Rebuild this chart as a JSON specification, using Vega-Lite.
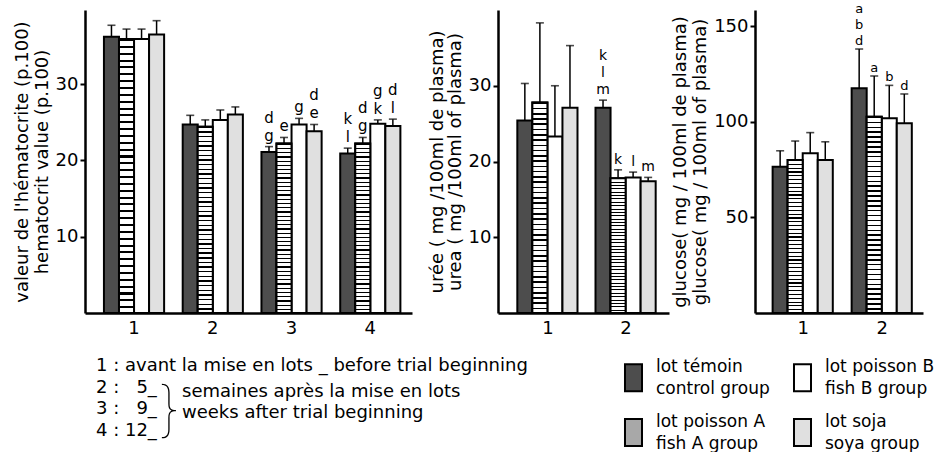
{
"$schema": "https://vega.github.io/schema/vega-lite/v6.json",
"padding": {"left": 13, "top": 10, "right": 0, "bottom": 0},
"spacing": 20,
"datasets": {
"hema": [
{"g":"1","s":"control","v":36.2,"e":37.7},
{"g":"1","s":"fishA","v":35.9,"e":37.2},
{"g":"1","s":"fishB","v":35.9,"e":37.2},
{"g":"1","s":"soya","v":36.5,"e":38.3},
{"g":"2","s":"control","v":24.7,"e":25.9},
{"g":"2","s":"fishA","v":24.4,"e":25.3},
{"g":"2","s":"fishB","v":25.3,"e":26.6},
{"g":"2","s":"soya","v":26.0,"e":27.0},
{"g":"3","s":"control","v":21.1,"e":21.8,"lab":"g\nd"},
{"g":"3","s":"fishA","v":22.2,"e":23.0,"lab":"e"},
{"g":"3","s":"fishB","v":24.7,"e":25.5,"lab":"g"},
{"g":"3","s":"soya","v":23.8,"e":24.7,"lab":"e\nd"},
{"g":"4","s":"control","v":20.9,"e":21.6,"lab":"l\nk"},
{"g":"4","s":"fishA","v":22.2,"e":23.0,"lab":"g\nd"},
{"g":"4","s":"fishB","v":24.8,"e":25.3,"lab":"k\ng"},
{"g":"4","s":"soya","v":24.5,"e":25.4,"lab":"l\nd"}
],
"urea": [
{"g":"1","s":"control","v":25.4,"e":30.3},
{"g":"1","s":"fishA","v":27.8,"e":38.3},
{"g":"1","s":"fishB","v":23.3,"e":30.0},
{"g":"1","s":"soya","v":27.1,"e":35.3},
{"g":"2","s":"control","v":27.1,"e":28.1,"lab":"m\nl\nk"},
{"g":"2","s":"fishA","v":17.8,"e":18.9,"lab":"k"},
{"g":"2","s":"fishB","v":17.9,"e":18.6,"lab":"l"},
{"g":"2","s":"soya","v":17.4,"e":17.9,"lab":"m"}
],
"glu": [
{"g":"1","s":"control","v":76.5,"e":84.8},
{"g":"1","s":"fishA","v":80.0,"e":89.9},
{"g":"1","s":"fishB","v":83.5,"e":94.3},
{"g":"1","s":"soya","v":80.0,"e":89.5},
{"g":"2","s":"control","v":117.5,"e":138.0,"lab":"d\nb\na"},
{"g":"2","s":"fishA","v":102.6,"e":123.9,"lab":"a"},
{"g":"2","s":"fishB","v":101.8,"e":119.0,"lab":"b"},
{"g":"2","s":"soya","v":99.2,"e":114.5,"lab":"d"}
]
},
"vconcat": [
{
"hconcat": [
{
"width": 327, "height": 303,
"data": {"name": "hema"},
"encoding": {
"x": {"field": "g", "type": "nominal", "title": null, "scale": {"paddingInner": 0.236, "paddingOuter": 0.194, "align": 0.62}},
"xOffset": {"field": "s", "type": "nominal", "scale": {"domain": ["control","fishA","fishB","soya"], "paddingInner": 0, "paddingOuter": 0}}
},
"layer": [
{"mark": {"type": "bar", "stroke": "black", "strokeWidth": 2},
"encoding": {
"y": {"field": "v", "type": "quantitative", "scale": {"domain": [0, 39.7], "nice": false}, "axis": {"values": [10,20,30], "title": ["valeur de l'hématocrite (p.100)", "hematocrit value (p.100)"]}},
"fill": {"field": "s", "type": "nominal",
"scale": {"domain": ["control","fishA","fishB","soya"], "range": ["#4d4d4d", "#a8a8a8", "#ffffff", "#e0e0e0"]},
"legend": {"orient": "none", "legendX": 534, "legendY": 353, "columns": 2, "title": null,
"symbolType": "M-0.63,-1H0.63V1H-0.63Z", "symbolSize": 729, "symbolStrokeColor": "black", "symbolStrokeWidth": 2,
"labelFont": "DejaVu Sans", "labelFontSize": 17, "labelColor": "black", "labelOffset": 8, "rowPadding": 15, "columnPadding": 18,
"labelExpr": "datum.label == 'control' ? ['lot témoin','control group'] : datum.label == 'fishA' ? ['lot poisson A','fish A group'] : datum.label == 'fishB' ? ['lot poisson B','fish B group'] : ['lot soja','soya group']",
"encode": {"labels": {"update": {"lineHeight": {"value": 22}, "dy": {"value": -11}}}}}
}
}},
{"transform": [{"filter": "datum.s == 'fishA'"}],
"mark": {"type": "bar", "stroke": "black", "strokeWidth": 2,
"fill": {"gradient": "linear", "x1": 0, "y1": 0, "x2": 0, "y2": 1, "stops": [
{"offset":0,"color":"#000"},{"offset":0.0075,"color":"#000"},{"offset":0.0075,"color":"#fff"},{"offset":0.025,"color":"#fff"},
{"offset":0.025,"color":"#000"},{"offset":0.0325,"color":"#000"},{"offset":0.0325,"color":"#fff"},{"offset":0.05,"color":"#fff"},
{"offset":0.05,"color":"#000"},{"offset":0.0575,"color":"#000"},{"offset":0.0575,"color":"#fff"},{"offset":0.075,"color":"#fff"},
{"offset":0.075,"color":"#000"},{"offset":0.0825,"color":"#000"},{"offset":0.0825,"color":"#fff"},{"offset":0.1,"color":"#fff"},
{"offset":0.1,"color":"#000"},{"offset":0.1075,"color":"#000"},{"offset":0.1075,"color":"#fff"},{"offset":0.125,"color":"#fff"},
{"offset":0.125,"color":"#000"},{"offset":0.1325,"color":"#000"},{"offset":0.1325,"color":"#fff"},{"offset":0.15,"color":"#fff"},
{"offset":0.15,"color":"#000"},{"offset":0.1575,"color":"#000"},{"offset":0.1575,"color":"#fff"},{"offset":0.175,"color":"#fff"},
{"offset":0.175,"color":"#000"},{"offset":0.1825,"color":"#000"},{"offset":0.1825,"color":"#fff"},{"offset":0.2,"color":"#fff"},
{"offset":0.2,"color":"#000"},{"offset":0.2075,"color":"#000"},{"offset":0.2075,"color":"#fff"},{"offset":0.225,"color":"#fff"},
{"offset":0.225,"color":"#000"},{"offset":0.2325,"color":"#000"},{"offset":0.2325,"color":"#fff"},{"offset":0.25,"color":"#fff"},
{"offset":0.25,"color":"#000"},{"offset":0.2575,"color":"#000"},{"offset":0.2575,"color":"#fff"},{"offset":0.275,"color":"#fff"},
{"offset":0.275,"color":"#000"},{"offset":0.2825,"color":"#000"},{"offset":0.2825,"color":"#fff"},{"offset":0.3,"color":"#fff"},
{"offset":0.3,"color":"#000"},{"offset":0.3075,"color":"#000"},{"offset":0.3075,"color":"#fff"},{"offset":0.325,"color":"#fff"},
{"offset":0.325,"color":"#000"},{"offset":0.3325,"color":"#000"},{"offset":0.3325,"color":"#fff"},{"offset":0.35,"color":"#fff"},
{"offset":0.35,"color":"#000"},{"offset":0.3575,"color":"#000"},{"offset":0.3575,"color":"#fff"},{"offset":0.375,"color":"#fff"},
{"offset":0.375,"color":"#000"},{"offset":0.3825,"color":"#000"},{"offset":0.3825,"color":"#fff"},{"offset":0.4,"color":"#fff"},
{"offset":0.4,"color":"#000"},{"offset":0.4075,"color":"#000"},{"offset":0.4075,"color":"#fff"},{"offset":0.425,"color":"#fff"},
{"offset":0.425,"color":"#000"},{"offset":0.4325,"color":"#000"},{"offset":0.4325,"color":"#fff"},{"offset":0.45,"color":"#fff"},
{"offset":0.45,"color":"#000"},{"offset":0.4575,"color":"#000"},{"offset":0.4575,"color":"#fff"},{"offset":0.475,"color":"#fff"},
{"offset":0.475,"color":"#000"},{"offset":0.4825,"color":"#000"},{"offset":0.4825,"color":"#fff"},{"offset":0.5,"color":"#fff"},
{"offset":0.5,"color":"#000"},{"offset":0.5075,"color":"#000"},{"offset":0.5075,"color":"#fff"},{"offset":0.525,"color":"#fff"},
{"offset":0.525,"color":"#000"},{"offset":0.5325,"color":"#000"},{"offset":0.5325,"color":"#fff"},{"offset":0.55,"color":"#fff"},
{"offset":0.55,"color":"#000"},{"offset":0.5575,"color":"#000"},{"offset":0.5575,"color":"#fff"},{"offset":0.575,"color":"#fff"},
{"offset":0.575,"color":"#000"},{"offset":0.5825,"color":"#000"},{"offset":0.5825,"color":"#fff"},{"offset":0.6,"color":"#fff"},
{"offset":0.6,"color":"#000"},{"offset":0.6075,"color":"#000"},{"offset":0.6075,"color":"#fff"},{"offset":0.625,"color":"#fff"},
{"offset":0.625,"color":"#000"},{"offset":0.6325,"color":"#000"},{"offset":0.6325,"color":"#fff"},{"offset":0.65,"color":"#fff"},
{"offset":0.65,"color":"#000"},{"offset":0.6575,"color":"#000"},{"offset":0.6575,"color":"#fff"},{"offset":0.675,"color":"#fff"},
{"offset":0.675,"color":"#000"},{"offset":0.6825,"color":"#000"},{"offset":0.6825,"color":"#fff"},{"offset":0.7,"color":"#fff"},
{"offset":0.7,"color":"#000"},{"offset":0.7075,"color":"#000"},{"offset":0.7075,"color":"#fff"},{"offset":0.725,"color":"#fff"},
{"offset":0.725,"color":"#000"},{"offset":0.7325,"color":"#000"},{"offset":0.7325,"color":"#fff"},{"offset":0.75,"color":"#fff"},
{"offset":0.75,"color":"#000"},{"offset":0.7575,"color":"#000"},{"offset":0.7575,"color":"#fff"},{"offset":0.775,"color":"#fff"},
{"offset":0.775,"color":"#000"},{"offset":0.7825,"color":"#000"},{"offset":0.7825,"color":"#fff"},{"offset":0.8,"color":"#fff"},
{"offset":0.8,"color":"#000"},{"offset":0.8075,"color":"#000"},{"offset":0.8075,"color":"#fff"},{"offset":0.825,"color":"#fff"},
{"offset":0.825,"color":"#000"},{"offset":0.8325,"color":"#000"},{"offset":0.8325,"color":"#fff"},{"offset":0.85,"color":"#fff"},
{"offset":0.85,"color":"#000"},{"offset":0.8575,"color":"#000"},{"offset":0.8575,"color":"#fff"},{"offset":0.875,"color":"#fff"},
{"offset":0.875,"color":"#000"},{"offset":0.8825,"color":"#000"},{"offset":0.8825,"color":"#fff"},{"offset":0.9,"color":"#fff"},
{"offset":0.9,"color":"#000"},{"offset":0.9075,"color":"#000"},{"offset":0.9075,"color":"#fff"},{"offset":0.925,"color":"#fff"},
{"offset":0.925,"color":"#000"},{"offset":0.9325,"color":"#000"},{"offset":0.9325,"color":"#fff"},{"offset":0.95,"color":"#fff"},
{"offset":0.95,"color":"#000"},{"offset":0.9575,"color":"#000"},{"offset":0.9575,"color":"#fff"},{"offset":0.975,"color":"#fff"},
{"offset":0.975,"color":"#000"},{"offset":0.9825,"color":"#000"},{"offset":0.9825,"color":"#fff"},{"offset":1,"color":"#fff"}
]}},
"encoding": {"y": {"field": "v", "type": "quantitative", "scale": {"domain": [0, 39.7], "nice": false}}}},
{"mark": {"type": "rule", "strokeWidth": 1.5, "color": "black"},
"encoding": {"y": {"field": "v", "type": "quantitative", "scale": {"domain": [0, 39.7], "nice": false}}, "y2": {"field": "e"}}},
{"mark": {"type": "tick", "size": 8, "thickness": 1.6, "color": "black"},
"encoding": {"y": {"field": "e", "type": "quantitative", "scale": {"domain": [0, 39.7], "nice": false}}}},
{"transform": [{"filter": "datum.lab"}],
"mark": {"type": "text", "baseline": "alphabetic", "dy": -6, "fontSize": 15, "lineBreak": "\n", "lineHeight": -18, "font": "DejaVu Sans"},
"encoding": {"y": {"field": "e", "type": "quantitative", "scale": {"domain": [0, 39.7], "nice": false}}, "text": {"field": "lab"}}}
]
},
{
"width": 171, "height": 303,
"data": {"name": "urea"},
"encoding": {
"x": {"field": "g", "type": "nominal", "title": null, "scale": {"paddingInner": 0.218, "paddingOuter": 0.2026, "align": 0.61}},
"xOffset": {"field": "s", "type": "nominal", "scale": {"domain": ["control","fishA","fishB","soya"], "paddingInner": 0, "paddingOuter": 0}}
},
"layer": [
{"mark": {"type": "bar", "stroke": "black", "strokeWidth": 2},
"encoding": {
"y": {"field": "v", "type": "quantitative", "scale": {"domain": [0, 40], "nice": false}, "axis": {"values": [10,20,30], "titleLineHeight": 18, "title": ["urée ( mg /100ml de plasma)", "urea ( mg /100ml of plasma)"]}},
"fill": {"field": "s", "type": "nominal", "scale": {"domain": ["control","fishA","fishB","soya"]}, "legend": null}
}},
{"transform": [{"filter": "datum.s == 'fishA'"}],
"mark": {"type": "bar", "stroke": "black", "strokeWidth": 2,
"fill": {"gradient": "linear", "x1": 0, "y1": 0, "x2": 0, "y2": 1, "stops": [
{"offset":0,"color":"#000"},{"offset":0.0075,"color":"#000"},{"offset":0.0075,"color":"#fff"},{"offset":0.025,"color":"#fff"},
{"offset":0.025,"color":"#000"},{"offset":0.0325,"color":"#000"},{"offset":0.0325,"color":"#fff"},{"offset":0.05,"color":"#fff"},
{"offset":0.05,"color":"#000"},{"offset":0.0575,"color":"#000"},{"offset":0.0575,"color":"#fff"},{"offset":0.075,"color":"#fff"},
{"offset":0.075,"color":"#000"},{"offset":0.0825,"color":"#000"},{"offset":0.0825,"color":"#fff"},{"offset":0.1,"color":"#fff"},
{"offset":0.1,"color":"#000"},{"offset":0.1075,"color":"#000"},{"offset":0.1075,"color":"#fff"},{"offset":0.125,"color":"#fff"},
{"offset":0.125,"color":"#000"},{"offset":0.1325,"color":"#000"},{"offset":0.1325,"color":"#fff"},{"offset":0.15,"color":"#fff"},
{"offset":0.15,"color":"#000"},{"offset":0.1575,"color":"#000"},{"offset":0.1575,"color":"#fff"},{"offset":0.175,"color":"#fff"},
{"offset":0.175,"color":"#000"},{"offset":0.1825,"color":"#000"},{"offset":0.1825,"color":"#fff"},{"offset":0.2,"color":"#fff"},
{"offset":0.2,"color":"#000"},{"offset":0.2075,"color":"#000"},{"offset":0.2075,"color":"#fff"},{"offset":0.225,"color":"#fff"},
{"offset":0.225,"color":"#000"},{"offset":0.2325,"color":"#000"},{"offset":0.2325,"color":"#fff"},{"offset":0.25,"color":"#fff"},
{"offset":0.25,"color":"#000"},{"offset":0.2575,"color":"#000"},{"offset":0.2575,"color":"#fff"},{"offset":0.275,"color":"#fff"},
{"offset":0.275,"color":"#000"},{"offset":0.2825,"color":"#000"},{"offset":0.2825,"color":"#fff"},{"offset":0.3,"color":"#fff"},
{"offset":0.3,"color":"#000"},{"offset":0.3075,"color":"#000"},{"offset":0.3075,"color":"#fff"},{"offset":0.325,"color":"#fff"},
{"offset":0.325,"color":"#000"},{"offset":0.3325,"color":"#000"},{"offset":0.3325,"color":"#fff"},{"offset":0.35,"color":"#fff"},
{"offset":0.35,"color":"#000"},{"offset":0.3575,"color":"#000"},{"offset":0.3575,"color":"#fff"},{"offset":0.375,"color":"#fff"},
{"offset":0.375,"color":"#000"},{"offset":0.3825,"color":"#000"},{"offset":0.3825,"color":"#fff"},{"offset":0.4,"color":"#fff"},
{"offset":0.4,"color":"#000"},{"offset":0.4075,"color":"#000"},{"offset":0.4075,"color":"#fff"},{"offset":0.425,"color":"#fff"},
{"offset":0.425,"color":"#000"},{"offset":0.4325,"color":"#000"},{"offset":0.4325,"color":"#fff"},{"offset":0.45,"color":"#fff"},
{"offset":0.45,"color":"#000"},{"offset":0.4575,"color":"#000"},{"offset":0.4575,"color":"#fff"},{"offset":0.475,"color":"#fff"},
{"offset":0.475,"color":"#000"},{"offset":0.4825,"color":"#000"},{"offset":0.4825,"color":"#fff"},{"offset":0.5,"color":"#fff"},
{"offset":0.5,"color":"#000"},{"offset":0.5075,"color":"#000"},{"offset":0.5075,"color":"#fff"},{"offset":0.525,"color":"#fff"},
{"offset":0.525,"color":"#000"},{"offset":0.5325,"color":"#000"},{"offset":0.5325,"color":"#fff"},{"offset":0.55,"color":"#fff"},
{"offset":0.55,"color":"#000"},{"offset":0.5575,"color":"#000"},{"offset":0.5575,"color":"#fff"},{"offset":0.575,"color":"#fff"},
{"offset":0.575,"color":"#000"},{"offset":0.5825,"color":"#000"},{"offset":0.5825,"color":"#fff"},{"offset":0.6,"color":"#fff"},
{"offset":0.6,"color":"#000"},{"offset":0.6075,"color":"#000"},{"offset":0.6075,"color":"#fff"},{"offset":0.625,"color":"#fff"},
{"offset":0.625,"color":"#000"},{"offset":0.6325,"color":"#000"},{"offset":0.6325,"color":"#fff"},{"offset":0.65,"color":"#fff"},
{"offset":0.65,"color":"#000"},{"offset":0.6575,"color":"#000"},{"offset":0.6575,"color":"#fff"},{"offset":0.675,"color":"#fff"},
{"offset":0.675,"color":"#000"},{"offset":0.6825,"color":"#000"},{"offset":0.6825,"color":"#fff"},{"offset":0.7,"color":"#fff"},
{"offset":0.7,"color":"#000"},{"offset":0.7075,"color":"#000"},{"offset":0.7075,"color":"#fff"},{"offset":0.725,"color":"#fff"},
{"offset":0.725,"color":"#000"},{"offset":0.7325,"color":"#000"},{"offset":0.7325,"color":"#fff"},{"offset":0.75,"color":"#fff"},
{"offset":0.75,"color":"#000"},{"offset":0.7575,"color":"#000"},{"offset":0.7575,"color":"#fff"},{"offset":0.775,"color":"#fff"},
{"offset":0.775,"color":"#000"},{"offset":0.7825,"color":"#000"},{"offset":0.7825,"color":"#fff"},{"offset":0.8,"color":"#fff"},
{"offset":0.8,"color":"#000"},{"offset":0.8075,"color":"#000"},{"offset":0.8075,"color":"#fff"},{"offset":0.825,"color":"#fff"},
{"offset":0.825,"color":"#000"},{"offset":0.8325,"color":"#000"},{"offset":0.8325,"color":"#fff"},{"offset":0.85,"color":"#fff"},
{"offset":0.85,"color":"#000"},{"offset":0.8575,"color":"#000"},{"offset":0.8575,"color":"#fff"},{"offset":0.875,"color":"#fff"},
{"offset":0.875,"color":"#000"},{"offset":0.8825,"color":"#000"},{"offset":0.8825,"color":"#fff"},{"offset":0.9,"color":"#fff"},
{"offset":0.9,"color":"#000"},{"offset":0.9075,"color":"#000"},{"offset":0.9075,"color":"#fff"},{"offset":0.925,"color":"#fff"},
{"offset":0.925,"color":"#000"},{"offset":0.9325,"color":"#000"},{"offset":0.9325,"color":"#fff"},{"offset":0.95,"color":"#fff"},
{"offset":0.95,"color":"#000"},{"offset":0.9575,"color":"#000"},{"offset":0.9575,"color":"#fff"},{"offset":0.975,"color":"#fff"},
{"offset":0.975,"color":"#000"},{"offset":0.9825,"color":"#000"},{"offset":0.9825,"color":"#fff"},{"offset":1,"color":"#fff"}
]}},
"encoding": {"y": {"field": "v", "type": "quantitative", "scale": {"domain": [0, 40], "nice": false}}}},
{"mark": {"type": "rule", "strokeWidth": 1.5, "color": "black"},
"encoding": {"y": {"field": "v", "type": "quantitative", "scale": {"domain": [0, 40], "nice": false}}, "y2": {"field": "e"}}},
{"mark": {"type": "tick", "size": 8, "thickness": 1.6, "color": "black"},
"encoding": {"y": {"field": "e", "type": "quantitative", "scale": {"domain": [0, 40], "nice": false}}}},
{"transform": [{"filter": "datum.lab"}],
"mark": {"type": "text", "baseline": "alphabetic", "dy": -6, "fontSize": 14, "lineBreak": "\n", "lineHeight": -17, "font": "DejaVu Sans"},
"encoding": {"y": {"field": "e", "type": "quantitative", "scale": {"domain": [0, 40], "nice": false}}, "text": {"field": "lab"}}}
]
},
{
"width": 168, "height": 303,
"data": {"name": "glu"},
"encoding": {
"x": {"field": "g", "type": "nominal", "title": null, "scale": {"paddingInner": 0.228, "paddingOuter": 0.177, "align": 0.63}},
"xOffset": {"field": "s", "type": "nominal", "scale": {"domain": ["control","fishA","fishB","soya"], "paddingInner": 0, "paddingOuter": 0}}
},
"layer": [
{"mark": {"type": "bar", "stroke": "black", "strokeWidth": 2},
"encoding": {
"y": {"field": "v", "type": "quantitative", "scale": {"domain": [0, 158.4], "nice": false}, "axis": {"values": [50,100,150], "title": ["glucose( mg / 100ml de plasma)", "glucose( mg / 100ml of plasma)"]}},
"fill": {"field": "s", "type": "nominal", "scale": {"domain": ["control","fishA","fishB","soya"]}, "legend": null}
}},
{"transform": [{"filter": "datum.s == 'fishA'"}],
"mark": {"type": "bar", "stroke": "black", "strokeWidth": 2,
"fill": {"gradient": "linear", "x1": 0, "y1": 0, "x2": 0, "y2": 1, "stops": [
{"offset":0,"color":"#000"},{"offset":0.0075,"color":"#000"},{"offset":0.0075,"color":"#fff"},{"offset":0.025,"color":"#fff"},
{"offset":0.025,"color":"#000"},{"offset":0.0325,"color":"#000"},{"offset":0.0325,"color":"#fff"},{"offset":0.05,"color":"#fff"},
{"offset":0.05,"color":"#000"},{"offset":0.0575,"color":"#000"},{"offset":0.0575,"color":"#fff"},{"offset":0.075,"color":"#fff"},
{"offset":0.075,"color":"#000"},{"offset":0.0825,"color":"#000"},{"offset":0.0825,"color":"#fff"},{"offset":0.1,"color":"#fff"},
{"offset":0.1,"color":"#000"},{"offset":0.1075,"color":"#000"},{"offset":0.1075,"color":"#fff"},{"offset":0.125,"color":"#fff"},
{"offset":0.125,"color":"#000"},{"offset":0.1325,"color":"#000"},{"offset":0.1325,"color":"#fff"},{"offset":0.15,"color":"#fff"},
{"offset":0.15,"color":"#000"},{"offset":0.1575,"color":"#000"},{"offset":0.1575,"color":"#fff"},{"offset":0.175,"color":"#fff"},
{"offset":0.175,"color":"#000"},{"offset":0.1825,"color":"#000"},{"offset":0.1825,"color":"#fff"},{"offset":0.2,"color":"#fff"},
{"offset":0.2,"color":"#000"},{"offset":0.2075,"color":"#000"},{"offset":0.2075,"color":"#fff"},{"offset":0.225,"color":"#fff"},
{"offset":0.225,"color":"#000"},{"offset":0.2325,"color":"#000"},{"offset":0.2325,"color":"#fff"},{"offset":0.25,"color":"#fff"},
{"offset":0.25,"color":"#000"},{"offset":0.2575,"color":"#000"},{"offset":0.2575,"color":"#fff"},{"offset":0.275,"color":"#fff"},
{"offset":0.275,"color":"#000"},{"offset":0.2825,"color":"#000"},{"offset":0.2825,"color":"#fff"},{"offset":0.3,"color":"#fff"},
{"offset":0.3,"color":"#000"},{"offset":0.3075,"color":"#000"},{"offset":0.3075,"color":"#fff"},{"offset":0.325,"color":"#fff"},
{"offset":0.325,"color":"#000"},{"offset":0.3325,"color":"#000"},{"offset":0.3325,"color":"#fff"},{"offset":0.35,"color":"#fff"},
{"offset":0.35,"color":"#000"},{"offset":0.3575,"color":"#000"},{"offset":0.3575,"color":"#fff"},{"offset":0.375,"color":"#fff"},
{"offset":0.375,"color":"#000"},{"offset":0.3825,"color":"#000"},{"offset":0.3825,"color":"#fff"},{"offset":0.4,"color":"#fff"},
{"offset":0.4,"color":"#000"},{"offset":0.4075,"color":"#000"},{"offset":0.4075,"color":"#fff"},{"offset":0.425,"color":"#fff"},
{"offset":0.425,"color":"#000"},{"offset":0.4325,"color":"#000"},{"offset":0.4325,"color":"#fff"},{"offset":0.45,"color":"#fff"},
{"offset":0.45,"color":"#000"},{"offset":0.4575,"color":"#000"},{"offset":0.4575,"color":"#fff"},{"offset":0.475,"color":"#fff"},
{"offset":0.475,"color":"#000"},{"offset":0.4825,"color":"#000"},{"offset":0.4825,"color":"#fff"},{"offset":0.5,"color":"#fff"},
{"offset":0.5,"color":"#000"},{"offset":0.5075,"color":"#000"},{"offset":0.5075,"color":"#fff"},{"offset":0.525,"color":"#fff"},
{"offset":0.525,"color":"#000"},{"offset":0.5325,"color":"#000"},{"offset":0.5325,"color":"#fff"},{"offset":0.55,"color":"#fff"},
{"offset":0.55,"color":"#000"},{"offset":0.5575,"color":"#000"},{"offset":0.5575,"color":"#fff"},{"offset":0.575,"color":"#fff"},
{"offset":0.575,"color":"#000"},{"offset":0.5825,"color":"#000"},{"offset":0.5825,"color":"#fff"},{"offset":0.6,"color":"#fff"},
{"offset":0.6,"color":"#000"},{"offset":0.6075,"color":"#000"},{"offset":0.6075,"color":"#fff"},{"offset":0.625,"color":"#fff"},
{"offset":0.625,"color":"#000"},{"offset":0.6325,"color":"#000"},{"offset":0.6325,"color":"#fff"},{"offset":0.65,"color":"#fff"},
{"offset":0.65,"color":"#000"},{"offset":0.6575,"color":"#000"},{"offset":0.6575,"color":"#fff"},{"offset":0.675,"color":"#fff"},
{"offset":0.675,"color":"#000"},{"offset":0.6825,"color":"#000"},{"offset":0.6825,"color":"#fff"},{"offset":0.7,"color":"#fff"},
{"offset":0.7,"color":"#000"},{"offset":0.7075,"color":"#000"},{"offset":0.7075,"color":"#fff"},{"offset":0.725,"color":"#fff"},
{"offset":0.725,"color":"#000"},{"offset":0.7325,"color":"#000"},{"offset":0.7325,"color":"#fff"},{"offset":0.75,"color":"#fff"},
{"offset":0.75,"color":"#000"},{"offset":0.7575,"color":"#000"},{"offset":0.7575,"color":"#fff"},{"offset":0.775,"color":"#fff"},
{"offset":0.775,"color":"#000"},{"offset":0.7825,"color":"#000"},{"offset":0.7825,"color":"#fff"},{"offset":0.8,"color":"#fff"},
{"offset":0.8,"color":"#000"},{"offset":0.8075,"color":"#000"},{"offset":0.8075,"color":"#fff"},{"offset":0.825,"color":"#fff"},
{"offset":0.825,"color":"#000"},{"offset":0.8325,"color":"#000"},{"offset":0.8325,"color":"#fff"},{"offset":0.85,"color":"#fff"},
{"offset":0.85,"color":"#000"},{"offset":0.8575,"color":"#000"},{"offset":0.8575,"color":"#fff"},{"offset":0.875,"color":"#fff"},
{"offset":0.875,"color":"#000"},{"offset":0.8825,"color":"#000"},{"offset":0.8825,"color":"#fff"},{"offset":0.9,"color":"#fff"},
{"offset":0.9,"color":"#000"},{"offset":0.9075,"color":"#000"},{"offset":0.9075,"color":"#fff"},{"offset":0.925,"color":"#fff"},
{"offset":0.925,"color":"#000"},{"offset":0.9325,"color":"#000"},{"offset":0.9325,"color":"#fff"},{"offset":0.95,"color":"#fff"},
{"offset":0.95,"color":"#000"},{"offset":0.9575,"color":"#000"},{"offset":0.9575,"color":"#fff"},{"offset":0.975,"color":"#fff"},
{"offset":0.975,"color":"#000"},{"offset":0.9825,"color":"#000"},{"offset":0.9825,"color":"#fff"},{"offset":1,"color":"#fff"}
]}},
"encoding": {"y": {"field": "v", "type": "quantitative", "scale": {"domain": [0, 158.4], "nice": false}}}},
{"mark": {"type": "rule", "strokeWidth": 1.5, "color": "black"},
"encoding": {"y": {"field": "v", "type": "quantitative", "scale": {"domain": [0, 158.4], "nice": false}}, "y2": {"field": "e"}}},
{"mark": {"type": "tick", "size": 8, "thickness": 1.6, "color": "black"},
"encoding": {"y": {"field": "e", "type": "quantitative", "scale": {"domain": [0, 158.4], "nice": false}}}},
{"transform": [{"filter": "datum.lab"}],
"mark": {"type": "text", "baseline": "alphabetic", "dy": -4, "fontSize": 13, "lineBreak": "\n", "lineHeight": -16, "font": "DejaVu Sans"},
"encoding": {"y": {"field": "e", "type": "quantitative", "scale": {"domain": [0, 158.4], "nice": false}}, "text": {"field": "lab"}}}
]
}
],
"spacing": 86,
"bounds": "flush"
},
{
"width": 480, "height": 65,
"layer": [
{"data": {"values": [
{"line":"1","t":"1 : avant la mise en lots _ before trial beginning"},
{"line":"2","t":"2 :\u00a0\u00a0\u00a05_"},
{"line":"3","t":"3 :\u00a0\u00a0\u00a09_"},
{"line":"4","t":"4 :\u00a012_"}
]},
"mark": {"type": "text", "align": "left", "baseline": "middle", "fontSize": 18, "font": "DejaVu Sans"},
"encoding": {"y": {"field": "line", "type": "ordinal", "scale": {"type": "point", "padding": 0, "domain": ["1","2","3","4"]}, "axis": null}, "x": {"value": 11}, "text": {"field": "t"}}},
{"data": {"values": [{"line":"3","t":"}"}]},
"mark": {"type": "text", "align": "center", "baseline": "middle", "fontSize": 60, "font": "Inter", "fontWeight": 100, "dy": 3},
"encoding": {"y": {"field": "line", "type": "ordinal", "scale": {"type": "point", "padding": 0, "domain": ["1","2","3","4"]}, "axis": null}, "x": {"value": 84}, "text": {"field": "t"}}},
{"data": {"values": [{"line":"2","t":"semaines après la mise en lots"},{"line":"3","t":"weeks after trial beginning"}]},
"mark": {"type": "text", "align": "left", "baseline": "middle", "fontSize": 18, "font": "DejaVu Sans", "dy": 4},
"encoding": {"y": {"field": "line", "type": "ordinal", "scale": {"type": "point", "padding": 0, "domain": ["1","2","3","4"]}, "axis": null}, "x": {"value": 97}, "text": {"field": "t"}}}
]
}
],
"config": {
"font": "DejaVu Sans",
"view": {"stroke": null},
"axis": {"domainColor": "black", "domainWidth": 2.5, "tickColor": "black", "tickWidth": 2, "labelColor": "black", "titleColor": "black", "labelFontSize": 18, "titleFontSize": 18, "titleFontWeight": "normal", "grid": false, "labelFont": "DejaVu Sans", "titleFont": "DejaVu Sans"},
"axisX": {"ticks": false, "labelPadding": 6, "labelAngle": 0},
"axisY": {"tickSize": 5, "labelPadding": 2, "titleLineHeight": 20, "titlePadding": 4},
"text": {"color": "black"}
}
}
